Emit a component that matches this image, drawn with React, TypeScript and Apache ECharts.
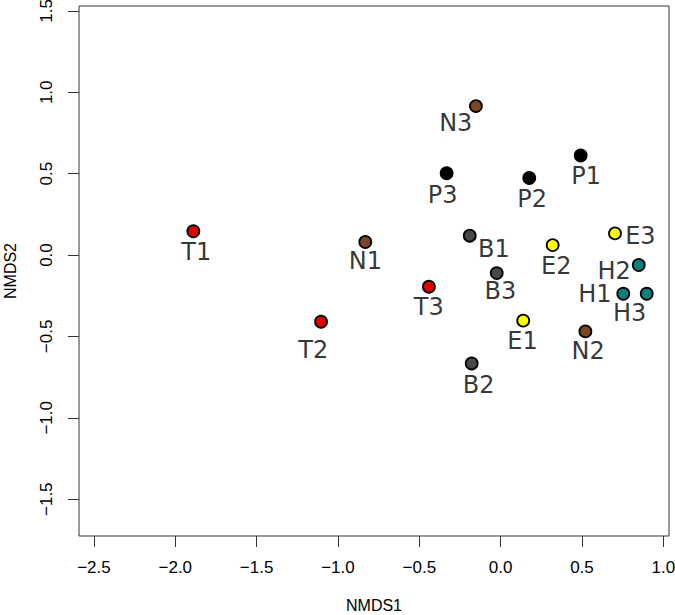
import React, { useEffect, useRef } from "react";
import * as echarts from "echarts";

const sampleNames = ["T1", "T2", "T3", "N1", "N2", "N3", "P1", "P2", "P3", "B1", "B2", "B3", "E1", "E2", "E3", "H1", "H2", "H3"];
const nmds1 = [-1.889, -1.104, -0.441, -0.832, 0.521, -0.152, 0.492, 0.176, -0.332, -0.19, -0.178, -0.024, 0.139, 0.32, 0.703, 0.754, 0.849, 0.898];
const nmds2 = [0.146, -0.41, -0.195, 0.08, -0.469, 0.915, 0.612, 0.473, 0.502, 0.119, -0.666, -0.111, -0.403, 0.061, 0.133, -0.238, -0.061, -0.238];
// where each sample's name label sits (data units)
const labelX = [-1.871, -1.152, -0.442, -0.832, 0.538, -0.276, 0.526, 0.194, -0.356, -0.042, -0.135, -0.001, 0.134, 0.342, 0.859, 0.579, 0.698, 0.793];
const labelY = [0.018, -0.582, -0.321, -0.034, -0.591, 0.811, 0.483, 0.345, 0.367, 0.039, -0.796, -0.22, -0.527, -0.069, 0.12, -0.238, -0.095, -0.353];
const groups = ["T", "T", "T", "N", "N", "N", "P", "P", "P", "B", "B", "B", "E", "E", "E", "H", "H", "H"];
const groupNames = ["T", "N", "P", "B", "E", "H"];
const groupColors = ["#e00000", "#7a4522", "#000000", "#484848", "#ffff00", "#0a7f7f"];

const xTicks = [-2.5, -2.0, -1.5, -1.0, -0.5, 0.0, 0.5, 1.0];
const yTicks = [-1.5, -1.0, -0.5, 0.0, 0.5, 1.0, 1.5];
const xRange = [-2.592, 1.035];
const yRange = [-1.726, 1.53];

const fmt = (v: number) => {
  const s = Math.abs(v).toFixed(1);
  return v < 0 ? "\u2212" + s : s;
};

export default function App() {
  const ref = useRef<HTMLDivElement>(null);
  useEffect(() => {
    if (!ref.current) return;
    const chart = echarts.init(ref.current, null, { renderer: "svg" });
    const axisFont = { fontFamily: "Liberation Sans, Arial, sans-serif", fontSize: 17, color: "#000" };
    const pointSeries = groupNames.map((g, gi) => ({
      type: "scatter",
      name: g,
      symbol: "circle",
      symbolSize: 12,
      itemStyle: { color: groupColors[gi], borderColor: "#000", borderWidth: 1.8, opacity: 1 },
      data: sampleNames
        .map((n, i) => ({ name: n, value: [nmds1[i], nmds2[i]], g: groups[i] }))
        .filter((d) => d.g === g)
        .map((d) => ({ name: d.name, value: d.value })),
      z: 3,
    }));
    const labelSeries = {
      type: "scatter",
      name: "labels",
      symbol: "circle",
      symbolSize: 2,
      itemStyle: { color: "rgba(255,255,255,0)", borderWidth: 0 },
      label: {
        show: true,
        position: "inside",
        formatter: (p: any) => p.name,
        fontFamily: "DejaVu Sans, sans-serif",
        fontSize: 24,
        color: "#000",
        textBorderWidth: 0,
        textBorderColor: "transparent",
      },
      data: sampleNames.map((n, i) => ({ name: n, value: [labelX[i], labelY[i]] })),
      z: 4,
    };
    chart.setOption({
      animation: false,
      backgroundColor: "#fff",
      grid: {
        left: 79,
        right: 6,
        top: 6,
        bottom: 79,
        outerBoundsMode: "none",
        containLabel: false,
        show: true,
        borderColor: "#333",
        borderWidth: 1,
        backgroundColor: "transparent",
      },
      xAxis: {
        type: "value",
        min: xRange[0],
        max: xRange[1],
        name: "NMDS1",
        nameLocation: "middle",
        nameGap: 61,
        nameTextStyle: { ...axisFont, fontSize: 16 },
        axisLine: { show: false, onZero: false },
        splitLine: { show: false },
        axisTick: { show: true, inside: false, length: 11, customValues: xTicks, lineStyle: { color: "#333" } },
        axisLabel: { show: true, margin: 23, customValues: xTicks, formatter: fmt, ...axisFont },
      },
      yAxis: {
        type: "value",
        min: yRange[0],
        max: yRange[1],
        name: "NMDS2",
        nameLocation: "middle",
        nameRotate: 90,
        nameGap: 61,
        nameTextStyle: { ...axisFont, fontSize: 16 },
        axisLine: { show: false, onZero: false },
        splitLine: { show: false },
        axisTick: { show: true, inside: false, length: 11, customValues: yTicks, lineStyle: { color: "#333" } },
        axisLabel: { show: true, margin: 24, rotate: 90, customValues: yTicks, formatter: fmt, ...axisFont },
      },
      series: [...pointSeries, labelSeries],
    });
    return () => chart.dispose();
  }, []);
  return <div ref={ref} style={{ position: "fixed", left: 0, top: 0, width: 675, height: 615 }} />;
}
